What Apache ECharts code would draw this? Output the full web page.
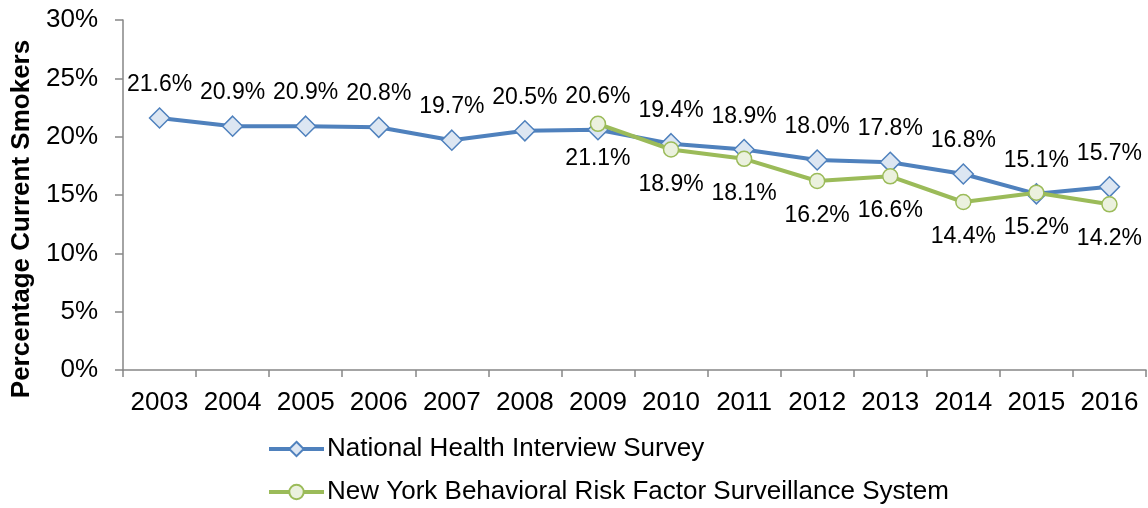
<!DOCTYPE html>
<html><head><meta charset="utf-8">
<script src="https://cdn.jsdelivr.net/npm/echarts@6/dist/echarts.min.js"></script>
<style>html,body{margin:0;padding:0;background:#fff}#c{width:1148px;height:508px}</style>
</head><body><div id="c"></div>
<script>
const years = ['2003','2004','2005','2006','2007','2008','2009','2010','2011','2012','2013','2014','2015','2016'];
const nhis = [21.6, 20.9, 20.9, 20.8, 19.7, 20.5, 20.6, 19.4, 18.9, 18.0, 17.8, 16.8, 15.1, 15.7];
const nyBrfss = [null, null, null, null, null, null, 21.1, 18.9, 18.1, 16.2, 16.6, 14.4, 15.2, 14.2];
const nhisName = 'National Health Interview Survey';
const nyName = 'New York Behavioral Risk Factor Surveillance System';
const yTicks = [0, 5, 10, 15, 20, 25, 30];

const font = 'Liberation Sans, Arial, sans-serif';
const chart = echarts.init(document.getElementById('c'), null, {renderer: 'canvas'});
const fmt = p => (p.value == null ? '' : p.value.toFixed(1) + '%');
chart.setOption({
  animation: false,
  grid: {left: 123, right: 2, top: 20, bottom: 138, containLabel: false},
  legend: {
    orient: 'vertical', left: 267, top: 436, itemGap: 17, padding: 0, height: 72,
    itemWidth: 55, itemHeight: 18,
    lineStyle: {width: 4},
    textStyle: {fontFamily: font, fontSize: 26, color: '#000', padding: [0, 0, 0, -2]},
    data: [nhisName, nyName]
  },
  xAxis: {
    type: 'category', data: years, boundaryGap: true,
    axisLine: {lineStyle: {color: '#868686', width: 1.5}},
    axisTick: {show: true, length: 7, alignWithLabel: false, lineStyle: {color: '#868686', width: 1.5}},
    axisLabel: {fontFamily: font, fontSize: 26, color: '#000', margin: 20, interval: 0}
  },
  yAxis: {
    type: 'value', min: yTicks[0], max: yTicks[yTicks.length - 1], interval: 5,
    name: 'Percentage Current Smokers', nameLocation: 'middle', nameGap: 88, nameRotate: 90,
    nameTextStyle: {fontFamily: font, fontSize: 26, fontWeight: 'bold', color: '#000', padding: [0, 48, 0, 0]},
    axisLine: {show: true, lineStyle: {color: '#868686', width: 1.5}},
    axisTick: {show: true, length: 8, lineStyle: {color: '#868686', width: 1.5}},
    splitLine: {show: false},
    axisLabel: {fontFamily: font, fontSize: 26, color: '#000', margin: 25, formatter: '{value}%'}
  },
  series: [
    {
      name: nhisName, type: 'line', data: nhis,
      symbol: 'diamond', symbolSize: [20, 20],
      lineStyle: {color: '#4F81BD', width: 4},
      itemStyle: {color: '#DCE6F2', borderColor: '#4F81BD', borderWidth: 1.5},
      label: {show: true, position: 'top', distance: 11, formatter: fmt,
              fontFamily: font, fontSize: 23, color: '#000'},
      z: 2
    },
    {
      name: nyName, type: 'line', data: nyBrfss,
      symbol: 'circle', symbolSize: 15,
      lineStyle: {color: '#9BBB59', width: 4},
      itemStyle: {color: '#EBF1DE', borderColor: '#9BBB59', borderWidth: 1.5},
      label: {show: true, position: 'bottom', distance: 15, formatter: fmt,
              fontFamily: font, fontSize: 23, color: '#000'},
      z: 3
    }
  ]
});
</script></body></html>
